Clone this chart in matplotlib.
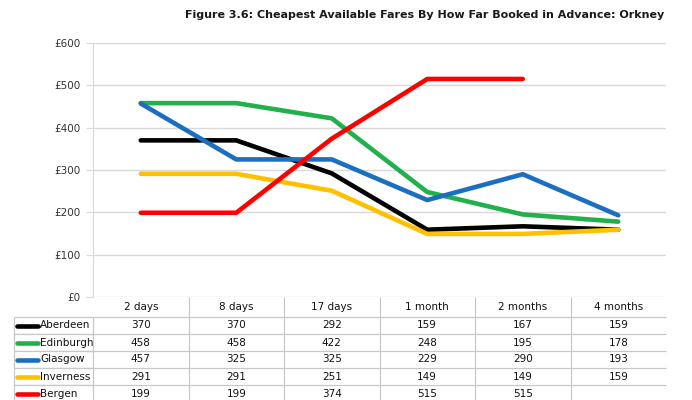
import numpy as np
import matplotlib
matplotlib.use("Agg")
import matplotlib.pyplot as plt

periods = ["2 days", "8 days", "17 days", "1 month", "2 months", "4 months"]
cities = ["Aberdeen", "Edinburgh", "Glasgow", "Inverness", "Bergen"]
aberdeen = [370, 370, 292, 159, 167, 159]
edinburgh = [458, 458, 422, 248, 195, 178]
glasgow = [457, 325, 325, 229, 290, 193]
inverness = [291, 291, 251, 149, 149, 159]
bergen = [199, 199, 374, 515, 515, None]
colors = ["#000000", "#21B04B", "#1C6FC0", "#FFC000", "#FF0000"]
yticks = [0, 100, 200, 300, 400, 500, 600]
title = "Figure 3.6: Cheapest Available Fares By How Far Booked in Advance: Orkney"

series = [aberdeen, edinburgh, glasgow, inverness, bergen]

plt.rcParams['font.family'] = ['DejaVu Sans']
W, H = 692, 400
fig = plt.figure(figsize=(W / 100, H / 100), dpi=100)
ax_left, ax_right, ax_top, ax_bot = 93, 666, 43, 297
ax = fig.add_axes([ax_left / W, 1 - ax_bot / H, (ax_right - ax_left) / W, (ax_bot - ax_top) / H])

x = np.arange(len(periods))
for vals, c in zip(series, colors):
    y = np.array([np.nan if v is None else v for v in vals], dtype=float)
    ax.plot(x, y, color=c, lw=3.3, solid_capstyle='round', solid_joinstyle='round', zorder=3)

ax.set_xlim(-0.5, len(periods) - 0.5)
ax.set_ylim(0, 600)
ax.set_yticks(yticks)
ax.set_yticklabels([f"£{v}" for v in yticks], fontsize=7.5, color="#333333")
ax.set_xticks([])
ax.yaxis.grid(True, color="#D9D9D9", lw=1)
ax.set_axisbelow(True)
for s in ["top", "right", "bottom"]:
    ax.spines[s].set_visible(False)
ax.spines["left"].set_color("#D9D9D9")
ax.tick_params(axis='y', length=5, color="#D9D9D9", pad=4)

# table
ax_h_px = ax_bot - ax_top
ax_w_px = ax_right - ax_left
label_w = (93 - 14) / ax_w_px
head_h = 20 / ax_h_px
row_h = 17 / ax_h_px
total_h = head_h + row_h * len(cities)
cell_text = [["" if v is None else str(v) for v in vals] for vals in series]
tbl = ax.table(cellText=cell_text, rowLabels=cities, colLabels=periods,
               cellLoc='center', rowLoc='left',
               colWidths=[1 / len(periods)] * len(periods),
               bbox=[0, -total_h, 1, total_h])
tbl._autoColumns = []
tbl.auto_set_font_size(False)
tbl.set_fontsize(7.5)
for (r, c), cell in tbl.get_celld().items():
    cell.set_edgecolor("#C8C8C8")
    cell.set_linewidth(0.9)
    cell.get_text().set_color("#111111")
    if c == -1:
        cell.set_width(label_w)
    else:
        cell.set_width(1 / len(periods))
    cell.set_height(head_h if r == 0 else row_h)
    if r == 0:
        cell.visible_edges = 'BL' if c > 0 else 'B'
    elif c == -1:
        cell.visible_edges = 'LTB'
        cell.PAD = 0.33
    else:
        cell.visible_edges = 'LB'

# legend keys in row labels
for i, c in enumerate(colors):
    yc = -(head_h + row_h * i + row_h / 2)
    ax.plot([-label_w + 0.006, -label_w + 0.042], [yc, yc], color=c, lw=3.3,
            solid_capstyle='round', transform=ax.transAxes, clip_on=False, zorder=5)

fig.text(425 / W, 1 - 15 / H, title, ha='center', va='center', fontsize=8.0, fontweight='bold', color="#1a1a1a")

fig.savefig("out.png", dpi=100)
